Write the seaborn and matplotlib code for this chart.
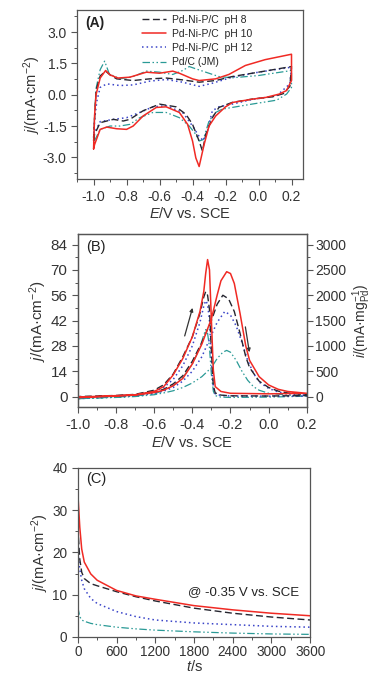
import numpy as np
import pandas as pd
import matplotlib
matplotlib.use("Agg")
import matplotlib.pyplot as plt
from matplotlib.ticker import MultipleLocator
import seaborn as sns

sns.set_theme(style="white")
plt.rcParams['font.family'] = ['Liberation Sans', 'DejaVu Sans']
plt.rcParams['mathtext.fontset'] = 'custom'
plt.rcParams['mathtext.rm'] = 'Liberation Sans'
plt.rcParams['mathtext.it'] = 'Liberation Sans:italic'

labels = ["Pd-Ni-P/C  pH 8", "Pd-Ni-P/C  pH 10", "Pd-Ni-P/C  pH 12", "Pd/C (JM)"]

# ---------------- Panel A: CV in KOH (forward / reverse branches) ----------------
a_pH8_fwd_E = [-1.0, -0.994, -0.985, -0.96, -0.927, -0.90, -0.86, -0.76, -0.66, -0.56, -0.46, -0.36, -0.26, -0.16, 0.0, 0.2]
a_pH8_fwd_j = [-2.2, -1.2, 0.2, 0.9, 1.13, 0.95, 0.76, 0.68, 0.76, 0.80, 0.71, 0.60, 0.68, 0.87, 1.08, 1.35]
a_pH8_rev_E = [0.2, 0.19, 0.15, 0.085, -0.04, -0.16, -0.24, -0.28, -0.32, -0.34, -0.36, -0.40, -0.44, -0.50, -0.60, -0.70, -0.78, -0.82, -0.88, -0.96, -0.994, -1.0]
a_pH8_rev_j = [1.35, 0.4, 0.05, -0.10, -0.21, -0.37, -0.61, -1.10, -1.90, -2.70, -2.22, -1.42, -0.94, -0.58, -0.45, -0.77, -1.18, -1.26, -1.18, -1.34, -1.9, -2.2]

a_pH10_fwd_E = [-1.0, -0.994, -0.985, -0.96, -0.927, -0.90, -0.853, -0.78, -0.68, -0.60, -0.52, -0.48, -0.40, -0.36, -0.26, -0.18, -0.08, 0.04, 0.2]
a_pH10_fwd_j = [-2.6, -1.0, 0.0, 0.8, 1.16, 0.95, 0.80, 0.84, 1.08, 1.03, 1.13, 1.03, 0.76, 0.68, 0.76, 0.97, 1.40, 1.68, 1.94]
a_pH10_rev_E = [0.2, 0.2, 0.17, 0.125, 0.044, -0.036, -0.157, -0.20, -0.26, -0.30, -0.33, -0.36, -0.38, -0.40, -0.43, -0.48, -0.56, -0.62, -0.70, -0.76, -0.80, -0.86, -0.92, -0.96, -0.994, -1.0]
a_pH10_rev_j = [1.94, 0.68, 0.20, 0.03, -0.13, -0.21, -0.37, -0.58, -1.02, -1.50, -2.39, -3.44, -3.03, -2.22, -1.42, -0.85, -0.58, -0.61, -1.02, -1.50, -1.66, -1.63, -1.55, -1.66, -2.39, -2.60]

a_pH12_fwd_E = [-1.0, -0.994, -0.98, -0.96, -0.92, -0.84, -0.76, -0.66, -0.56, -0.46, -0.36, -0.28, -0.16, 0.0, 0.2]
a_pH12_fwd_j = [-2.06, -1.2, -0.3, 0.35, 0.52, 0.44, 0.47, 0.65, 0.73, 0.60, 0.40, 0.55, 0.84, 1.08, 1.32]
a_pH12_rev_E = [0.2, 0.19, 0.11, -0.04, -0.16, -0.24, -0.28, -0.31, -0.335, -0.36, -0.40, -0.46, -0.56, -0.64, -0.72, -0.80, -0.88, -0.96, -0.994, -1.0]
a_pH12_rev_j = [1.32, 0.52, -0.05, -0.23, -0.45, -0.58, -0.77, -1.74, -2.20, -2.00, -1.50, -0.85, -0.53, -0.58, -0.85, -1.10, -1.18, -1.29, -1.82, -2.06]

a_PdC_fwd_E = [-1.0, -0.994, -0.985, -0.96, -0.933, -0.905, -0.84, -0.76, -0.68, -0.60, -0.52, -0.46, -0.42, -0.38, -0.32, -0.24, -0.16, 0.0, 0.2]
a_PdC_fwd_j = [-2.3, -1.0, 0.3, 1.2, 1.61, 1.0, 0.76, 0.87, 1.13, 1.08, 0.97, 1.16, 1.35, 1.24, 1.08, 0.87, 0.81, 0.92, 1.16]
a_PdC_rev_E = [0.2, 0.2, 0.17, 0.11, -0.04, -0.16, -0.22, -0.26, -0.30, -0.335, -0.36, -0.38, -0.42, -0.48, -0.56, -0.64, -0.72, -0.78, -0.84, -0.90, -0.96, -0.994, -1.0]
a_PdC_rev_j = [1.16, 0.35, 0.03, -0.26, -0.45, -0.61, -0.69, -0.85, -1.26, -2.15, -2.22, -1.90, -1.50, -1.10, -0.85, -0.85, -1.10, -1.42, -1.50, -1.50, -1.66, -2.2, -2.3]

# ---------------- Panel B: ethanol oxidation CV ----------------
b_pH8_fwd_E = [-1.0, -0.8, -0.7, -0.6, -0.55, -0.5, -0.45, -0.40, -0.35, -0.30, -0.27, -0.24, -0.21, -0.18, -0.15, -0.12, -0.10, -0.05, 0.0, 0.05, 0.1, 0.2]
b_pH8_fwd_j = [-0.5, 0.4, 0.9, 2.5, 4.0, 7.0, 11.5, 19.5, 30.0, 42.0, 51.0, 56.0, 54.0, 47.0, 35.0, 22.0, 16.0, 8.5, 5.0, 3.0, 2.0, 1.0]
b_pH8_rev_E = [0.2, 0.0, -0.2, -0.25, -0.28, -0.29, -0.30, -0.31, -0.32, -0.33, -0.34, -0.36, -0.40, -0.45, -0.50, -0.55, -0.6, -0.7, -0.8, -1.0]
b_pH8_rev_j = [0.5, 0.3, 0.4, 0.8, 2.0, 6.0, 25.0, 48.0, 56.0, 58.0, 55.0, 46.0, 33.0, 22.0, 12.5, 6.5, 3.5, 1.2, 0.6, 0.0]

b_pH10_fwd_E = [-1.0, -0.8, -0.7, -0.6, -0.55, -0.5, -0.45, -0.40, -0.35, -0.30, -0.27, -0.25, -0.22, -0.20, -0.18, -0.15, -0.12, -0.10, -0.05, 0.0, 0.05, 0.1, 0.2]
b_pH10_fwd_j = [-0.6, 0.3, 0.8, 2.2, 3.5, 6.0, 10.0, 18.0, 29.0, 43.0, 56.0, 64.0, 69.0, 68.0, 62.5, 46.0, 28.0, 20.0, 11.0, 6.4, 4.0, 2.8, 1.8]
b_pH10_rev_E = [0.2, 0.0, -0.2, -0.25, -0.28, -0.29, -0.30, -0.31, -0.32, -0.33, -0.34, -0.36, -0.40, -0.45, -0.50, -0.55, -0.6, -0.7, -0.8, -1.0]
b_pH10_rev_j = [1.8, 1.5, 1.8, 2.8, 5.5, 14.7, 42.0, 70.0, 75.7, 68.0, 58.0, 47.0, 33.0, 21.0, 12.0, 5.5, 2.8, 1.0, 0.5, -0.3]

b_pH12_fwd_E = [-1.0, -0.8, -0.7, -0.6, -0.55, -0.5, -0.45, -0.40, -0.35, -0.30, -0.27, -0.23, -0.20, -0.17, -0.14, -0.11, -0.08, -0.05, 0.0, 0.05, 0.1, 0.2]
b_pH12_fwd_j = [-0.8, 0.2, 0.6, 1.8, 3.0, 5.0, 8.5, 14.0, 22.0, 34.0, 41.0, 47.0, 45.0, 39.0, 30.0, 20.0, 13.0, 8.0, 4.5, 2.5, 1.5, 0.8]
b_pH12_rev_E = [0.2, 0.0, -0.2, -0.25, -0.28, -0.29, -0.30, -0.31, -0.32, -0.33, -0.34, -0.36, -0.40, -0.45, -0.50, -0.55, -0.6, -0.7, -0.8, -1.0]
b_pH12_rev_j = [0.3, 0.2, 0.3, 0.6, 1.5, 5.0, 20.0, 42.0, 51.0, 53.0, 50.0, 41.0, 28.0, 17.0, 9.5, 5.0, 2.8, 1.0, 0.4, -0.4]

b_PdC_fwd_E = [-1.0, -0.8, -0.7, -0.6, -0.55, -0.5, -0.45, -0.40, -0.35, -0.30, -0.27, -0.24, -0.22, -0.20, -0.17, -0.14, -0.11, -0.08, -0.05, 0.0, 0.1, 0.2]
b_PdC_fwd_j = [-1.2, -0.5, 0.0, 1.0, 2.0, 3.2, 5.0, 7.5, 11.0, 16.0, 21.0, 24.5, 25.5, 24.5, 20.0, 14.0, 9.0, 5.5, 3.5, 1.8, 0.8, 0.6]
b_PdC_rev_E = [0.2, 0.0, -0.2, -0.25, -0.28, -0.29, -0.30, -0.31, -0.32, -0.33, -0.34, -0.36, -0.40, -0.45, -0.50, -0.55, -0.6, -0.7, -0.8, -1.0]
b_PdC_rev_j = [0.2, -0.3, -0.5, -0.3, 0.5, 3.0, 12.0, 27.0, 35.0, 37.0, 34.0, 27.0, 18.0, 10.5, 6.0, 3.2, 1.6, 0.3, -0.3, -1.2]

# ---------------- Panel C: chronoamperometry ----------------
c_t = [0, 30, 60, 100, 200, 300, 600, 900, 1200, 1800, 2400, 3000, 3600]
c_pH8 = [26.0, 18.4, 15.3, 13.8, 12.6, 12.1, 10.7, 9.5, 8.5, 6.8, 5.6, 4.7, 4.0]
c_pH10 = [34.0, 26.0, 20.8, 17.7, 14.9, 13.4, 11.0, 9.7, 8.9, 7.4, 6.4, 5.6, 5.0]
c_pH12 = [20.0, 16.0, 13.4, 11.4, 9.1, 7.9, 6.0, 4.8, 4.0, 3.3, 2.9, 2.5, 2.3]
c_PdC = [7.0, 4.8, 4.0, 3.7, 3.2, 2.9, 2.3, 1.9, 1.6, 1.2, 0.9, 0.7, 0.6]

colors = ["#262630", "#f02a24", "#3a44c8", "#2a9a96"]
styles = [(0, (5, 2.5)), "-", (0, (1, 2)), (0, (6, 2, 1.2, 2, 1.2, 2))]
lws = [1.0, 1.1, 1.1, 0.9]

fig = plt.figure(figsize=(3.76, 6.79), dpi=100)
axA = fig.add_axes([0.205, 0.736, 0.601, 0.249])
axB = fig.add_axes([0.207, 0.400, 0.609, 0.255])
axC = fig.add_axes([0.207, 0.062, 0.618, 0.249])


def loop_df(fE, fj, rE, rj):
    E = list(fE) + list(rE)
    j = list(fj) + list(rj)
    return pd.DataFrame({"E": E, "j": j})


A_sets = [(a_pH8_fwd_E, a_pH8_fwd_j, a_pH8_rev_E, a_pH8_rev_j),
          (a_pH10_fwd_E, a_pH10_fwd_j, a_pH10_rev_E, a_pH10_rev_j),
          (a_pH12_fwd_E, a_pH12_fwd_j, a_pH12_rev_E, a_pH12_rev_j),
          (a_PdC_fwd_E, a_PdC_fwd_j, a_PdC_rev_E, a_PdC_rev_j)]
B_sets = [(b_pH8_fwd_E, b_pH8_fwd_j, b_pH8_rev_E, b_pH8_rev_j),
          (b_pH10_fwd_E, b_pH10_fwd_j, b_pH10_rev_E, b_pH10_rev_j),
          (b_pH12_fwd_E, b_pH12_fwd_j, b_pH12_rev_E, b_pH12_rev_j),
          (b_PdC_fwd_E, b_PdC_fwd_j, b_PdC_rev_E, b_PdC_rev_j)]
C_sets = [c_pH8, c_pH10, c_pH12, c_PdC]

order = [3, 2, 0, 1]
for i in order:
    d = loop_df(*A_sets[i])
    sns.lineplot(data=d, x="E", y="j", sort=False, estimator=None, ax=axA,
                 color=colors[i], linestyle=styles[i], lw=lws[i], label=labels[i])
    d = loop_df(*B_sets[i])
    sns.lineplot(data=d, x="E", y="j", sort=False, estimator=None, ax=axB,
                 color=colors[i], linestyle=styles[i], lw=lws[i])
    d = pd.DataFrame({"t": c_t, "j": C_sets[i]})
    sns.lineplot(data=d, x="t", y="j", sort=False, estimator=None, ax=axC,
                 color=colors[i], linestyle=styles[i], lw=lws[i])

frame_c = "#555555"
for ax in (axA, axB, axC):
    for s in ax.spines.values():
        s.set_color(frame_c)
        s.set_linewidth(0.9)
    ax.tick_params(which="both", direction="out", color=frame_c, top=False, right=False,
                   left=True, bottom=True)
    ax.tick_params(which="major", length=4, width=0.8)
    ax.tick_params(which="minor", length=2.2, width=0.7)

# Panel A
axA.set_xlim(-1.1, 0.27)
axA.set_ylim(-4.05, 4.05)
axA.xaxis.set_major_locator(MultipleLocator(0.2))
axA.xaxis.set_minor_locator(MultipleLocator(0.1))
axA.yaxis.set_major_locator(MultipleLocator(1.5))
axA.yaxis.set_minor_locator(MultipleLocator(0.75))
axA.set_yticks([-3.0, -1.5, 0.0, 1.5, 3.0])
axA.set_xticklabels([f"{v:.1f}" for v in axA.get_xticks()])
axA.set_yticklabels([f"{v:.1f}" for v in axA.get_yticks()])
axA.tick_params(labelsize=10, colors="#333333", labelcolor="#333333")
axA.tick_params(which="both", color=frame_c)
axA.set_xlabel("$E$/V vs. SCE", fontsize=10.5, color="#333333", labelpad=2)
axA.set_ylabel("$j$/(mA·cm$^{-2}$)", fontsize=10.5, color="#333333", labelpad=0)
axA.text(0.035, 0.965, "(A)", transform=axA.transAxes, fontsize=10, fontweight="bold",
         va="top", ha="left", color="#222222")
hs, ls = axA.get_legend_handles_labels()
idx = [ls.index(l) for l in labels]
axA.legend([hs[k] for k in idx], [ls[k] for k in idx], loc="upper left",
           bbox_to_anchor=(0.26, 1.01), frameon=False, fontsize=7.5,
           handlelength=2.3, handletextpad=0.6, labelspacing=0.4, borderaxespad=0.2)

# Panel B
axB.set_xlim(-1.0, 0.2)
axB.set_ylim(-6, 89.7)
axB.xaxis.set_major_locator(MultipleLocator(0.2))
axB.xaxis.set_minor_locator(MultipleLocator(0.1))
axB.yaxis.set_major_locator(MultipleLocator(14))
axB.yaxis.set_minor_locator(MultipleLocator(7))
axB.set_yticks([0, 14, 28, 42, 56, 70, 84])
axB.set_xticklabels([f"{v:.1f}" for v in axB.get_xticks()])
axB.tick_params(axis="x", labelsize=10.5, labelcolor="#333333")
axB.tick_params(axis="y", labelsize=11, labelcolor="#333333")
axB.set_xlabel("$E$/V vs. SCE", fontsize=10.5, color="#333333", labelpad=2)
axB.set_ylabel("$j$/(mA·cm$^{-2}$)", fontsize=11, color="#333333", labelpad=1)
axB.text(0.035, 0.965, "(B)", transform=axB.transAxes, fontsize=10.5,
         va="top", ha="left", color="#222222")
axB.annotate("", xy=(-0.399, 49.0), xytext=(-0.440, 33.5),
             arrowprops=dict(arrowstyle="-|>", color="#333333", lw=0.9,
                             mutation_scale=5, shrinkA=0, shrinkB=0))
axB.annotate("", xy=(-0.101, 24.5), xytext=(-0.122, 38.5),
             arrowprops=dict(arrowstyle="-|>", color="#333333", lw=0.9,
                             mutation_scale=5, shrinkA=0, shrinkB=0))
axB2 = axB.twinx()
axB2.set_ylim(-6 * 3000 / 84, 89.7 * 3000 / 84)
axB2.yaxis.set_major_locator(MultipleLocator(500))
axB2.yaxis.set_minor_locator(MultipleLocator(250))
for s in axB2.spines.values():
    s.set_color(frame_c)
    s.set_linewidth(0.9)
axB2.tick_params(which="both", direction="out", color=frame_c, right=True, left=False)
axB2.tick_params(which="major", length=4, width=0.8, labelsize=10, pad=2, labelcolor="#333333")
axB2.tick_params(which="minor", length=2.2, width=0.7)
axB2.grid(False)
axB2.set_ylabel("$i$/(mA·mg$_{\\mathrm{Pd}}^{-1}$)", fontsize=10, color="#333333",
                rotation=90)
axB2.yaxis.set_label_coords(1.24, 0.5)
axB2.yaxis.label.set_horizontalalignment("center")
axB2.yaxis.label.set_verticalalignment("center")

# Panel C
axC.set_xlim(0, 3600)
axC.set_ylim(0, 40)
axC.xaxis.set_major_locator(MultipleLocator(600))
axC.xaxis.set_minor_locator(MultipleLocator(300))
axC.yaxis.set_major_locator(MultipleLocator(10))
axC.yaxis.set_minor_locator(MultipleLocator(5))
axC.tick_params(labelsize=9.8, labelcolor="#333333")
axC.tick_params(axis="x", pad=2)
axC.set_xlabel("$t$/s", fontsize=10.5, color="#333333", labelpad=0)
axC.set_ylabel("$j$/(mA·cm$^{-2}$)", fontsize=10.5, color="#333333", labelpad=1)
axC.text(0.035, 0.975, "(C)", transform=axC.transAxes, fontsize=10.5,
         va="top", ha="left", color="#222222")
axC.text(1700, 10.7, "@ -0.35 V vs. SCE", fontsize=9.5, va="center", ha="left", color="#222222")

for ax in (axA, axB, axC):
    ax.grid(False)

fig.savefig("out.png", dpi=100)
